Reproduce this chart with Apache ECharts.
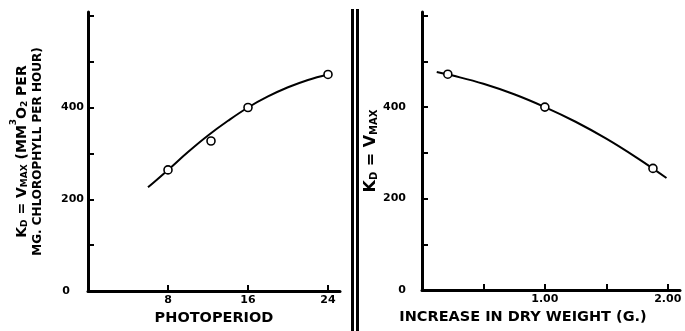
<!DOCTYPE html>
<html>
<head>
<meta charset="utf-8">
<script src="https://cdn.jsdelivr.net/npm/echarts@6/dist/echarts.min.js"></script>
<style>
  html, body { margin: 0; padding: 0; background: #fff; }
  #chart { width: 685px; height: 331px; }
</style>
</head>
<body>
<div id="chart"></div>
<script>
// measured points, left panel (photoperiod, hours)
const photoperiod = [8, 12.3, 16, 24];
const rateByPhotoperiod = [264, 327, 400, 472];
// fitted curve drawn by hand on the original
const photoCurveX = [6, 8, 10, 12, 14, 16, 18, 20, 22, 24];
const photoCurveY = [226, 264, 303, 339, 371, 400, 424, 444, 460, 472];

// right panel (increase in dry weight, g)
const dryWeight = [0.21, 1.0, 1.88];
const rateByDryWeight = [472, 400, 266];
const weightCurveX = [0.12, 0.25, 0.5, 0.75, 1.0, 1.25, 1.5, 1.75, 1.99];
const weightCurveY = [477, 469, 451, 428, 400, 368, 331, 289, 245];

// tick positions / labels
const yTicks = [0, 100, 200, 300, 400, 500, 600];
const yLabels = [0, 200, 400];
const photoTicks = [8, 16, 24];
const weightTicks = [0.5, 1.0, 1.5, 2.0];
const weightLabels = [1.0, 2.0];

const FONT = 'DejaVu Sans';
const ink = '#000';

const zip = (xs, ys) => xs.map((x, i) => [x, ys[i]]);

const makeRich = (big, small, lh) => ({
  b: { fontSize: big, fontWeight: 'bold', fontFamily: FONT, color: ink, lineHeight: lh, verticalAlign: 'bottom' },
  s: { fontSize: small, fontWeight: 'bold', fontFamily: FONT, color: ink, verticalAlign: 'bottom' },
  u: { fontSize: small, fontWeight: 'bold', fontFamily: FONT, color: ink, verticalAlign: 'top' },
  m: { fontSize: 12, fontWeight: 'bold', fontFamily: FONT, color: ink, lineHeight: 18 }
});

const labelStyle = { color: ink, fontFamily: FONT, fontWeight: 'bold', fontSize: 11 };

const yAxisBase = (labelMargin) => ({
  type: 'value',
  min: 0,
  max: 608,
  axisLine: { show: true, lineStyle: { color: ink, width: 3 } },
  axisTick: { show: true, inside: true, length: 6, lineStyle: { color: ink, width: 2 }, customValues: yTicks },
  axisLabel: Object.assign({ customValues: yLabels, margin: labelMargin }, labelStyle),
  splitLine: { show: false },
  nameLocation: 'middle',
  nameRotate: 90
});

const option = {
  backgroundColor: '#fff',
  animation: false,
  grid: [
    { left: 88, top: 12, width: 252, bottom: 39 },
    { left: 422, top: 12, width: 258, bottom: 41 }
  ],
  xAxis: [
    {
      gridIndex: 0,
      type: 'value',
      min: 0,
      max: 25.2,
      axisLine: { lineStyle: { color: ink, width: 3 } },
      axisTick: { inside: true, length: 6, lineStyle: { color: ink, width: 2 }, customValues: photoTicks },
      axisLabel: Object.assign({ customValues: photoTicks, margin: 4 }, labelStyle),
      splitLine: { show: false },
      name: 'PHOTOPERIOD',
      nameLocation: 'middle',
      nameGap: 16,
      nameTextStyle: { color: ink, fontFamily: FONT, fontWeight: 'bold', fontSize: 14.5, verticalAlign: 'top' }
    },
    {
      gridIndex: 1,
      type: 'value',
      min: 0,
      max: 2.1,
      axisLine: { lineStyle: { color: ink, width: 3 } },
      axisTick: { inside: true, length: 6, lineStyle: { color: ink, width: 2 }, customValues: weightTicks },
      axisLabel: Object.assign({ customValues: weightLabels, margin: 4, formatter: (v) => v.toFixed(2) }, labelStyle),
      splitLine: { show: false },
      name: 'INCREASE IN DRY WEIGHT (G.)',
      nameLocation: 'middle',
      nameGap: 16,
      nameTextStyle: { color: ink, fontFamily: FONT, fontWeight: 'bold', fontSize: 14.5, verticalAlign: 'top', padding: [0, 56, 0, 0] }
    }
  ],
  yAxis: [
    Object.assign(yAxisBase(4), {
      gridIndex: 0,
      axisLabel: Object.assign({
        customValues: yLabels, margin: 4,
        // the zero sits further out than the other labels
        formatter: (v) => (v === 0 ? '{z|0}' : String(v)),
        rich: { z: Object.assign({ padding: [0, 14, 0, 0] }, labelStyle) }
      }, labelStyle),
      name: '{b|K}{s|D}{b| = V}{s|MAX}{b| (MM}{u|3}{b|O}{s|2}{b| PER}\n{m|MG. CHLOROPHYLL PER HOUR)}',
      nameGap: 41,
      nameTextStyle: { rich: makeRich(14, 9, 20) }
    }),
    Object.assign(yAxisBase(16), {
      gridIndex: 1,
      name: '{b|K}{s|D}{b| = V}{s|MAX}',
      nameGap: 37,
      nameTextStyle: { rich: makeRich(16, 10, 18) }
    })
  ],
  series: [
    {
      type: 'line', xAxisIndex: 0, yAxisIndex: 0,
      data: zip(photoCurveX, photoCurveY),
      smooth: 0.4, showSymbol: false,
      lineStyle: { color: ink, width: 2 }, z: 2
    },
    {
      type: 'scatter', xAxisIndex: 0, yAxisIndex: 0,
      data: zip(photoperiod, rateByPhotoperiod),
      symbol: 'circle', symbolSize: 8,
      itemStyle: { color: '#fff', opacity: 1, borderColor: ink, borderWidth: 1.6 }, z: 3
    },
    {
      type: 'line', xAxisIndex: 1, yAxisIndex: 1,
      data: zip(weightCurveX, weightCurveY),
      smooth: 0.4, showSymbol: false,
      lineStyle: { color: ink, width: 2 }, z: 2
    },
    {
      type: 'scatter', xAxisIndex: 1, yAxisIndex: 1,
      data: zip(dryWeight, rateByDryWeight),
      symbol: 'circle', symbolSize: 8,
      itemStyle: { color: '#fff', opacity: 1, borderColor: ink, borderWidth: 1.6 }, z: 3
    }
  ],
  // double rule separating the two panels
  graphic: [
    { type: 'rect', shape: { x: 351, y: 9, width: 3, height: 322 }, style: { fill: ink } },
    { type: 'rect', shape: { x: 356, y: 9, width: 3, height: 322 }, style: { fill: ink } }
  ]
};

const chart = echarts.init(document.getElementById('chart'));
chart.setOption(option);
window.addEventListener('resize', () => chart.resize());
</script>
</body>
</html>
